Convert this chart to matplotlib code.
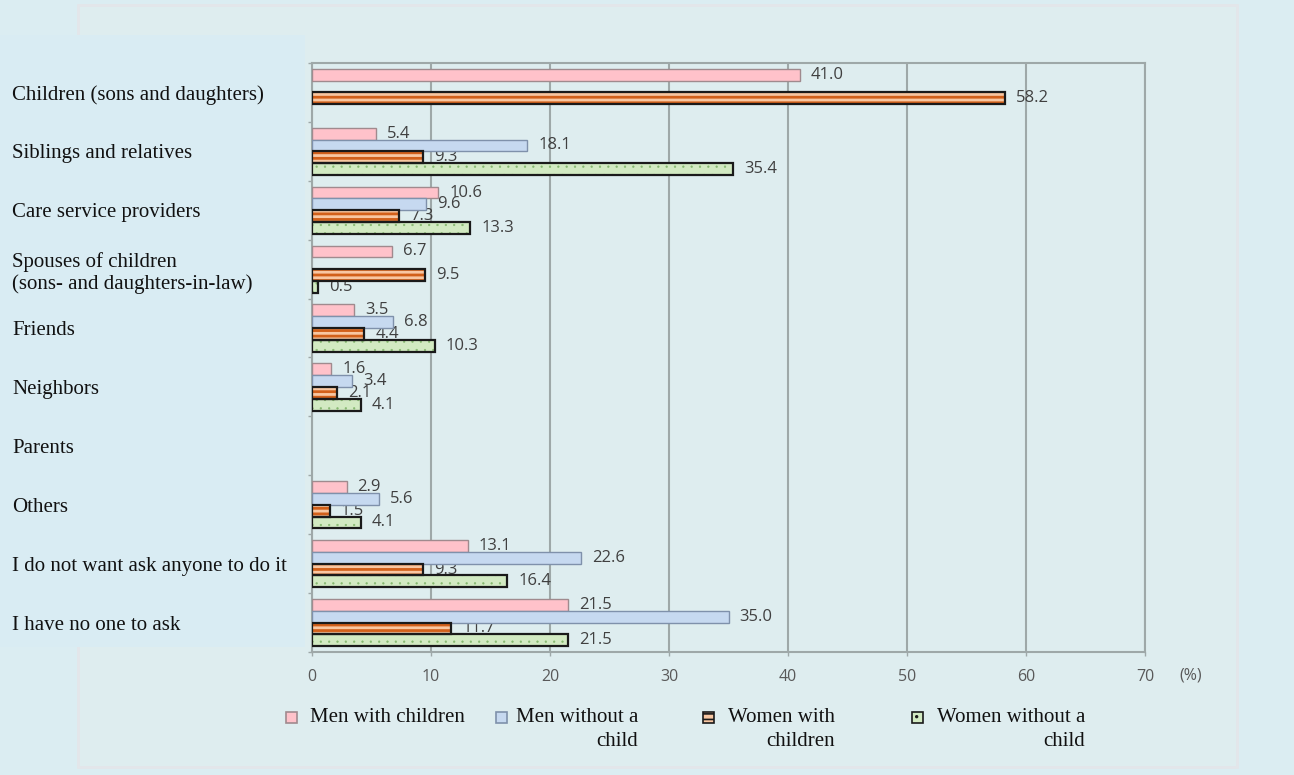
import numpy as np
import matplotlib
matplotlib.use("Agg")
import matplotlib.pyplot as plt
from matplotlib.patches import Rectangle

# Data
categories = [
    "Children (sons and daughters)",
    "Siblings and relatives",
    "Care service providers",
    "Spouses of children\n(sons- and daughters-in-law)",
    "Friends",
    "Neighbors",
    "Parents",
    "Others",
    "I do not want ask anyone to do it",
    "I have no one to ask",
]
nan = np.nan
men_with_children = [41.0, 5.4, 10.6, 6.7, 3.5, 1.6, nan, 2.9, 13.1, 21.5]
men_without_child = [nan, 18.1, 9.6, nan, 6.8, 3.4, nan, 5.6, 22.6, 35.0]
women_with_children = [58.2, 9.3, 7.3, 9.5, 4.4, 2.1, nan, 1.5, 9.3, 11.7]
women_without_child = [nan, 35.4, 13.3, 0.5, 10.3, 4.1, nan, 4.1, 16.4, 21.5]

series_names = [["Men with children"], ["Men without a", "child"],
                ["Women with", "children"], ["Women without a", "child"]]
x_ticks = [0, 10, 20, 30, 40, 50, 60, 70]

# Styles: (face, hatch, hatch colour, hatch width, edge, edge width)
styles = [
    ("#FFC2CA", None, None, 0, "#A08A8E", 1.0),
    ("#C6D9F0", None, None, 0, "#7F91AB", 1.0),
    ("#F8C7A2", "---", "#D2601A", 2.0, "#1A1A1A", 1.6),
    ("#D2EAC2", "..", "#86B870", 0.4, "#1A1A1A", 1.6),
]
series = [men_with_children, men_without_child, women_with_children, women_without_child]

serif = "Liberation Serif"
sans = "Open Sans"

fig = plt.figure(figsize=(12.94, 7.75), dpi=100)
fig.patch.set_facecolor("#DBEDF2")
W, H = 1294, 775


def fx(px):
    return px / W


def fy(py):
    return 1 - py / H


def set_hatch_lw(patches, lw):
    # per-patch hatch width where the matplotlib version allows it
    for p in patches:
        if hasattr(p, "set_hatch_linewidth"):
            p.set_hatch_linewidth(lw)


plt.rcParams["hatch.linewidth"] = 1.2

# background panels
fig.add_artist(Rectangle((fx(78), fy(767)), fx(1237) - fx(78), fy(5) - fy(767),
                         transform=fig.transFigure, facecolor="#DEEDEF",
                         edgecolor="#E3E6EA", lw=2, zorder=0))
fig.add_artist(Rectangle((0, fy(647)), fx(305), fy(35) - fy(647),
                         transform=fig.transFigure, facecolor="#D9ECF3",
                         edgecolor="none", zorder=0))

ax = fig.add_axes([fx(312), fy(652), fx(1145) - fx(312), fy(63) - fy(652)])
ax.set_facecolor("none")
ax.set_zorder(1)

y = np.arange(len(categories))
h = 0.2
offsets = [-0.3, -0.1, 0.1, 0.3]

for vals, off, (face, hatch, hcol, hlw, edge, lw) in zip(series, offsets, styles):
    vals = np.array(vals, dtype=float)
    ok = np.isfinite(vals)
    yy = y[ok] + off
    if hatch:
        bars = ax.barh(yy, vals[ok], height=h, color=face, hatch=hatch,
                       edgecolor=hcol, linewidth=0, zorder=3)
        set_hatch_lw(bars, hlw)
        ax.barh(yy, vals[ok], height=h, fill=False, edgecolor=edge,
                linewidth=lw, zorder=3.1)
    else:
        ax.barh(yy, vals[ok], height=h, color=face, edgecolor=edge,
                linewidth=lw, zorder=3)
    for yi, v in zip(yy, vals[ok]):
        ax.annotate(f"{v:.1f}", (v, yi), xytext=(8, 0), textcoords="offset points",
                    ha="left", va="center", fontsize=12, family=sans,
                    color="#404040", zorder=2.5)

ax.set_xlim(0, 70)
ax.set_ylim(len(categories) - 0.5, -0.5)
ax.set_xticks(x_ticks)
ax.set_xticklabels([str(t) for t in x_ticks], family=sans, fontsize=11.5, color="#595959")
ax.set_yticks(y)
ax.set_yticklabels(categories, family=serif, fontsize=15, color="#111111", ha="left")
ax.set_yticks(np.arange(-0.5, len(categories), 1), minor=True)

gcol = "#9EA8A8"
ax.grid(axis="x", color=gcol, lw=1.5, zorder=1)
ax.set_axisbelow(True)
for s in ax.spines.values():
    s.set_color(gcol)
    s.set_linewidth(1.5)
ax.tick_params(axis="y", which="major", length=0, pad=216)
ax.tick_params(axis="y", which="minor", length=3, width=1, color=gcol, direction="out")
ax.tick_params(axis="x", length=3, width=1, color=gcol, direction="out", pad=9)

fig.text(fx(1191), fy(675), "(%)", ha="center", va="center", family=sans,
         fontsize=11.5, color="#595959")

# legend drawn by hand to match the layout
sq_x = [286, 496, 703, 912]
txt_right = [467, 638, 835, 1085]
txt_left = [310, 513, 727, 933]
for i, (face, hatch, hcol, hlw, edge, lw) in enumerate(styles):
    sq = Rectangle((fx(sq_x[i]), fy(723)), fx(11), fy(712) - fy(723),
                   transform=fig.transFigure, facecolor=face,
                   edgecolor=edge, lw=1.2, hatch=hatch, zorder=2)
    fig.add_artist(sq)
    lines = series_names[i]
    if len(lines) == 1:
        fig.text(fx(txt_left[i]), fy(717), lines[0], ha="left", va="center",
                 family=serif, fontsize=15, color="#111111")
    else:
        for k, ln in enumerate(lines):
            fig.text(fx(txt_right[i]), fy(717 + 25 * k), ln, ha="right", va="center",
                     family=serif, fontsize=15, color="#111111")

fig.savefig("out.png", dpi=100, facecolor=fig.get_facecolor())
